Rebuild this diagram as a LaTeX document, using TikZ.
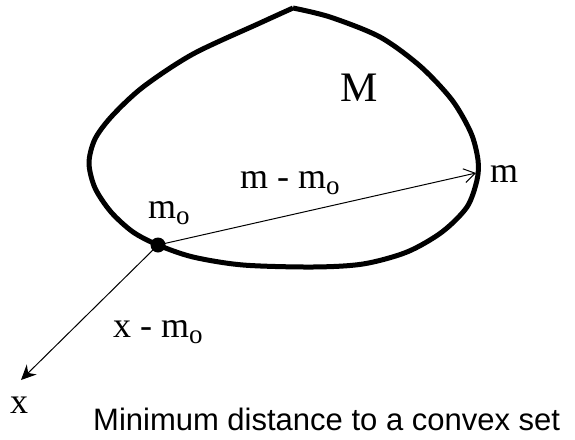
\documentclass[tikz,border=0pt]{standalone}
\usepackage{fontspec}
\setmainfont{Liberation Serif}
\newfontfamily\capfont{Liberation Sans}
\usetikzlibrary{arrows.meta,positioning}
\newcommand{\subo}{\raisebox{-6pt}{\fontsize{27}{27}\selectfont o}}
\tikzset{
  lbl/.style={font=\fontsize{36}{36}\selectfont, inner sep=0pt, anchor=base west},
  setline/.style={line width=5pt, line join=round},
  vec/.style={line width=1pt},
}
\begin{document}
\begin{tikzpicture}[x=1pt,y=-1pt]
    \useasboundingbox (0,0) rectangle (575,439);
    % the convex set M
    \draw[setline] plot[smooth, tension=0.5] coordinates {(293,8) (330,17) (380,37) (420,66) (452,100) (471,133) (478,160) (477,180) (467,207) (442,232) (407,252) (363,264) (313,267) (243,265) (193,257) (158,245) (133,232) (111,212) (95,188) (89,163) (95,139) (112,116) (143,87) (193,54) (260,23) (293,8)};
    \node (mo) [circle, fill, inner sep=0pt, minimum size=15pt] at (158,245) {};
    \coordinate (m) at (476,173);
    \coordinate (x) at (21,380);
    \draw[vec, -{Straight Barb[length=11pt,width=14pt]}] (mo.center) -- (m);
    \draw[vec, -{Stealth[length=15pt,width=14pt,inset=5pt]}] (mo.center) -- (x);
    % labels
    \node (setname) [lbl, font=\fontsize{42}{42}\selectfont] at (340,101) {M};
    \node (mdiff) [lbl] at (240,188) {m - m\subo};
    \node (mlabel) [lbl] at (490,182) {m};
    \node (molabel) [lbl] at (148,218) {m\subo};
    \node (xdiff) [lbl] at (113,337) {x - m\subo};
    \node (xlabel) [lbl] at (10,413) {x};
    \node (caption) [inner sep=0pt, anchor=base west, font=\capfont\fontsize{31}{31}\selectfont] at (93,430) {Minimum distance to a convex set};
\end{tikzpicture}
\end{document}
